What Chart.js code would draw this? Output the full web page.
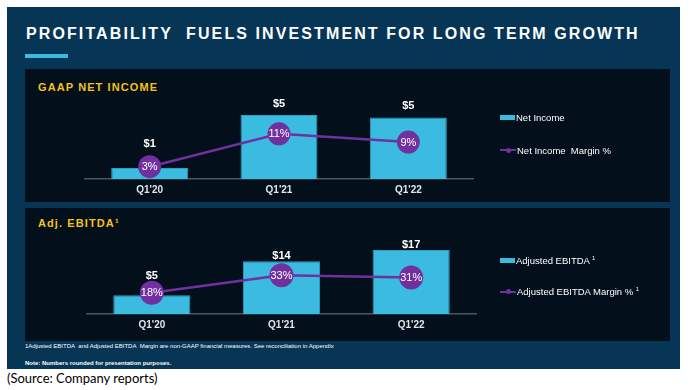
<!DOCTYPE html>
<html>
<head>
<meta charset="utf-8">
<script src="https://cdn.jsdelivr.net/npm/chart.js@4.4.1/dist/chart.umd.min.js"></script>
<style>
  html, body { margin: 0; padding: 0; background: #fff; }
  body { width: 692px; height: 390px; position: relative; overflow: hidden; font-family: 'Liberation Sans', Arial, sans-serif; }
  .frame { position: absolute; left: 7px; top: 7px; width: 673px; height: 362px; background: #063556; }
  .title { position: absolute; left: 26px; top: 25px; color: #fff; font-weight: bold; font-size: 16px; letter-spacing: 2.1px; white-space: nowrap; }
  .bar-accent { position: absolute; left: 25px; top: 54px; width: 43px; height: 4px; background: #3fb8e0; }
  .panel { position: absolute; left: 25px; width: 645px; height: 133px; background: #030f1a; }
  .panel h2 { position: absolute; left: 13px; margin: 0; color: #f3c21b; font-size: 11px; font-weight: bold; letter-spacing: 1.1px; white-space: nowrap; }
  .panel canvas { position: absolute; left: 0; top: 0; }
  .legend { position: absolute; left: 475px; color: #fff; font-size: 9.5px; white-space: nowrap; }
  .legend div { position: absolute; left: 0; height: 12px; line-height: 12px; }
  .swatch { display: inline-block; width: 15px; height: 5px; background: #3bbbe0; vertical-align: middle; margin-right: 1px; position: relative; top: -1px; }
  .lineswatch { display: inline-block; width: 16px; height: 2px; background: #7030a0; vertical-align: middle; margin-right: 1px; position: relative; top: -1px; }
  .lineswatch::after { content: ''; position: absolute; left: 6px; top: -1.5px; width: 5px; height: 5px; border-radius: 50%; background: #7030a0; }
  .note { position: absolute; left: 25px; color: #fff; font-size: 6px; white-space: nowrap; }
  .source { position: absolute; left: 7px; top: 370px; color: #000; font-family: Lato, sans-serif; font-size: 13px; }
</style>
</head>
<body>
<div class="frame"></div>
<div class="title">PROFITABILITY&nbsp; FUELS INVESTMENT FOR LONG TERM GROWTH</div>
<div class="bar-accent"></div>

<div class="panel" style="top:69px">
  <h2 style="top:12px">GAAP NET INCOME</h2>
  <canvas id="netChart" width="645" height="133"></canvas>
  <div class="legend">
    <div style="top:43px"><span class="swatch"></span>Net Income</div>
    <div style="top:76px"><span class="lineswatch"></span>Net Income&nbsp; Margin %</div>
  </div>
</div>

<div class="panel" style="top:208px">
  <h2 style="top:9px">Adj. EBITDA¹</h2>
  <canvas id="ebitdaChart" width="645" height="133"></canvas>
  <div class="legend">
    <div style="top:44px"><span class="swatch"></span>Adjusted EBITDA <sup style="font-size:6px">1</sup></div>
    <div style="top:75px"><span class="lineswatch"></span>Adjusted EBITDA Margin % <sup style="font-size:6px">1</sup></div>
  </div>
</div>

<div class="note" style="top:343px">1Adjusted EBITDA&nbsp; and Adjusted EBITDA&nbsp; Margin are non-GAAP financial measures. See reconciliation in Appendix</div>
<div class="note" style="top:360px; font-weight:bold">Note: Numbers rounded for presentation purposes.</div>
<div class="source">(Source: Company reports)</div>

<script>
const categories = ["Q1'20", "Q1'21", "Q1'22"];

const netIncome = [0.9, 5.2, 5.0];
const netIncomeMargin = [3, 11, 9];

const adjEbitda = [5, 14, 17];
const adjEbitdaMargin = [18, 33, 31];

const CYAN = '#3bbbe0';
const PURPLE = '#7030a0';

const valueLabels = {
    id: 'valueLabels',
    afterDatasetsDraw(chart, args, opts) {
        const ctx = chart.ctx;
        const bars = chart.getDatasetMeta(1);
        const pts = chart.getDatasetMeta(0);
        ctx.save();
        ctx.fillStyle = '#fff';
        ctx.textAlign = 'center';
        ctx.textBaseline = 'middle';

        bars.data.forEach((bar, i) => {
            const pt = pts.data[i];
            const top = Math.min(bar.y, pt.y - pt.options.radius);
            ctx.font = "bold 11px 'Liberation Sans', Arial, sans-serif";
            ctx.fillText('$' + Math.round(chart.data.datasets[1].data[i]), bar.x, top - opts.offset);
        });

        pts.data.forEach((pt, i) => {
            ctx.font = "11px 'Liberation Sans', Arial, sans-serif";
            ctx.fillText(chart.data.datasets[0].data[i] + '%', pt.x, pt.y + 0.5);
        });
        ctx.restore();
    }
};

function makeChart(id, bars, margins, cfg) {
    return new Chart(document.getElementById(id), {
        type: 'bar',
        data: {
            labels: categories,
            datasets: [{
                type: 'line',
                data: margins,
                yAxisID: 'y1',
                borderColor: PURPLE,
                borderWidth: 2.5,
                pointRadius: cfg.radius,
                pointHoverRadius: cfg.radius,
                pointBackgroundColor: PURPLE,
                pointBorderWidth: 0,
                order: 0,
            }, {
                type: 'bar',
                data: bars,
                yAxisID: 'y',
                backgroundColor: CYAN,
                borderColor: '#2a9fc6',
                borderWidth: 1,
                barPercentage: 0.595,
                categoryPercentage: 1,
                order: 1,
            }],
        },
        options: {
            responsive: false,
            animation: false,
            devicePixelRatio: 1,
            layout: { padding: cfg.padding },
            plugins: {
                legend: { display: false },
                tooltip: { enabled: false },
                valueLabels: { offset: cfg.offset },
            },
            scales: {
                x: {
                    grid: { display: false, drawTicks: false },
                    border: { display: true, color: '#4a5662', width: 1.5 },
                    ticks: { color: '#e2e6ea', padding: 5, font: { family: "'Liberation Sans', Arial, sans-serif", size: 10, weight: 'bold' } },
                },
                y: { display: false, min: 0, max: cfg.yMax },
                y1: { display: false, min: 0, max: cfg.y1Max },
            },
        },
        plugins: [valueLabels],
    });
}

makeChart('netChart', netIncome, netIncomeMargin, {
    yMax: 8, y1Max: 24, radius: 11.5, offset: 11,
    padding: { left: 60, right: 197, top: 11, bottom: 1 },
});

makeChart('ebitdaChart', adjEbitda, adjEbitdaMargin, {
    yMax: 25, y1Max: 80, radius: 12, offset: 5,
    padding: { left: 62, right: 194, top: 9, bottom: 5 },
});
</script>
</body>
</html>
